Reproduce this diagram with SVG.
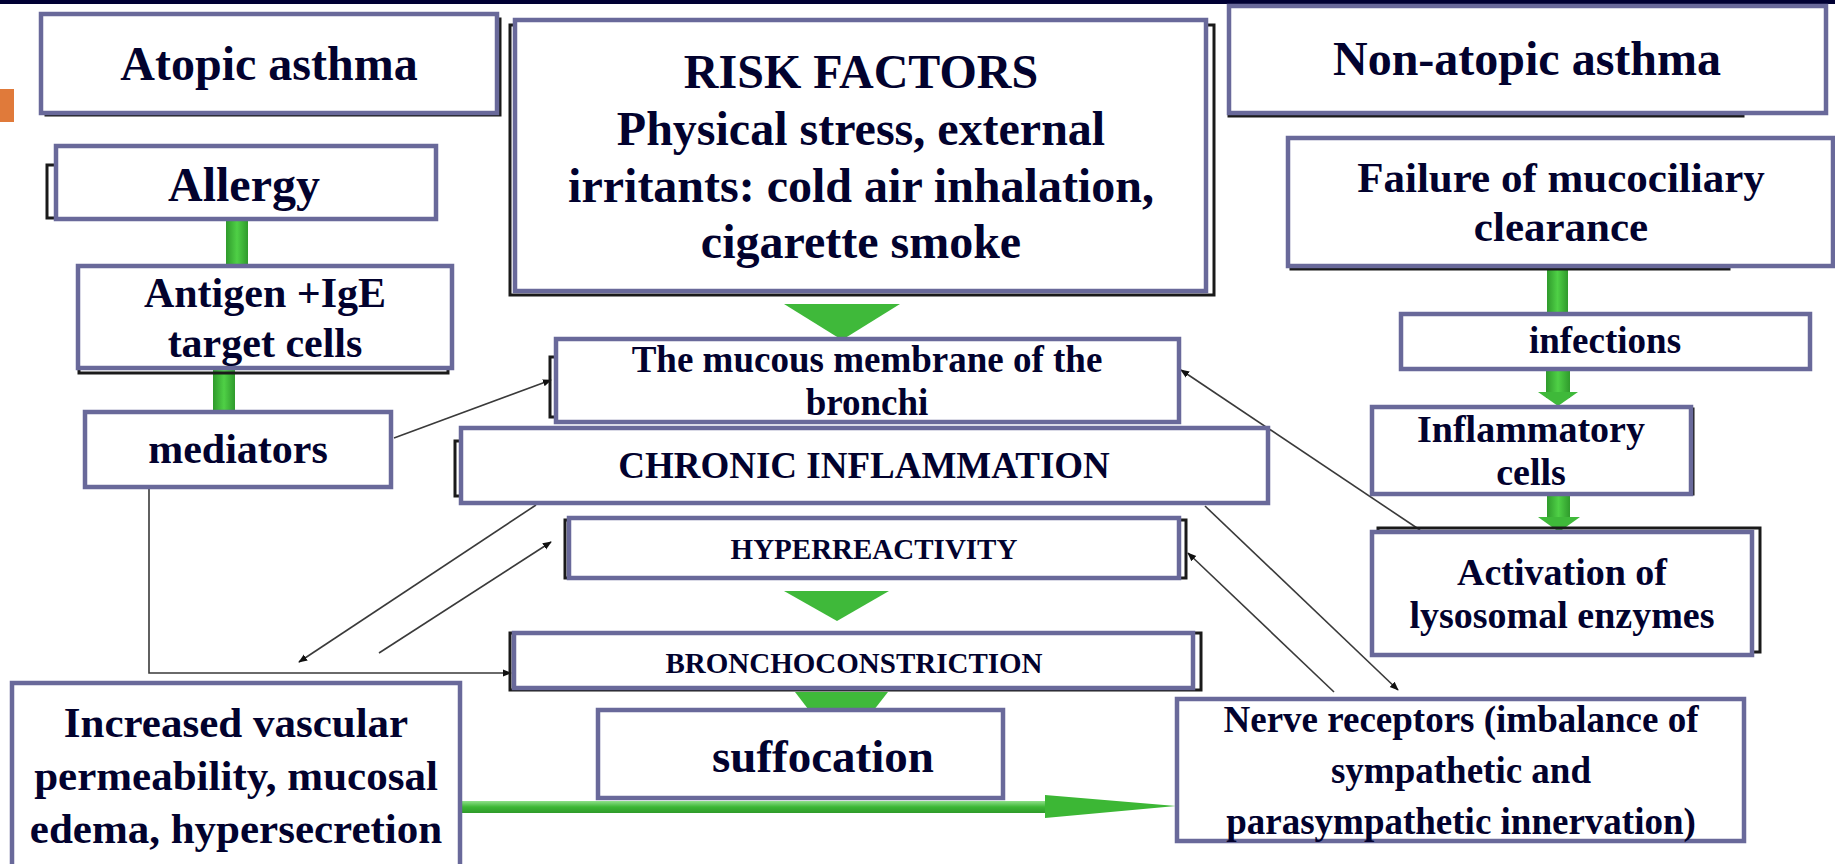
<svg xmlns="http://www.w3.org/2000/svg" width="1835" height="864" viewBox="0 0 1835 864">
<defs>
<style>
.box{fill:#fff;stroke:#69699a;stroke-width:4.5}
.sh{fill:none;stroke:#1a1a1a;stroke-width:3}
.t{font-family:"Liberation Serif","Times New Roman",serif;font-weight:bold;fill:#02022e;text-anchor:middle}
.ln{fill:none;stroke:#3a3a3a;stroke-width:1.6}
.g{fill:url(#gv)}
.gt{fill:#3fb93a}
</style>
<linearGradient id="gv" x1="0" y1="0" x2="1" y2="0">
<stop offset="0" stop-color="#2f9a2c"/><stop offset="0.5" stop-color="#4fd046"/><stop offset="1" stop-color="#2f9a2c"/>
</linearGradient>
<linearGradient id="gh" x1="0" y1="0" x2="0" y2="1">
<stop offset="0" stop-color="#8fe08a"/><stop offset="0.5" stop-color="#3cb735"/><stop offset="1" stop-color="#2e9a2a"/>
</linearGradient>
<marker id="ah" viewBox="0 0 10 10" refX="9" refY="5" markerWidth="9" markerHeight="9" markerUnits="userSpaceOnUse" orient="auto">
<path d="M0,1 L10,5 L0,9 Z" fill="#111"/>
</marker>
</defs>
<rect x="0" y="0" width="1835" height="864" fill="#fff"/>
<rect x="0" y="0" width="1835" height="4" fill="#000033"/>
<rect x="0" y="89" width="14" height="33" fill="#e07a3a"/>

<g id="green-links">
<rect class="g" x="226" y="219" width="22" height="48"/>
<rect class="g" x="213" y="366" width="22" height="47"/>
<rect class="g" x="1547" y="266" width="21" height="49"/>
<rect class="g" x="1546" y="368" width="24" height="30"/>
<polygon class="gt" points="1538,392 1578,392 1558,406"/>
<rect class="g" x="1547" y="492" width="23" height="28"/>
<polygon class="gt" points="1538,517 1580,517 1559,532"/>
<polygon class="gt" points="784,304 900,304 842,340"/>
<polygon class="gt" points="784,591 889,591 837,621"/>
<polygon class="gt" points="795,692 888,692 841,752"/>
<rect x="460" y="801" width="590" height="12" fill="url(#gh)"/>
<polygon points="1045,795 1176,806 1045,818" fill="#3cb735"/>
</g>

<g id="connectors">
<line class="ln" x1="394" y1="438" x2="551" y2="380" marker-end="url(#ah)"/>
<polyline class="ln" points="149,487 149,673 511,673" marker-end="url(#ah)"/>
<line class="ln" x1="536" y1="505" x2="299" y2="662" marker-end="url(#ah)"/>
<line class="ln" x1="379" y1="653" x2="551" y2="542" marker-end="url(#ah)"/>
<line class="ln" x1="1420" y1="530" x2="1181" y2="370" marker-end="url(#ah)"/>
<line class="ln" x1="1205" y1="506" x2="1398" y2="690" marker-end="url(#ah)"/>
<line class="ln" x1="1334" y1="692" x2="1188" y2="553" marker-end="url(#ah)"/>
</g>

<g id="atopic">
<rect class="sh" x="46" y="19" width="454" height="96"/>
<rect class="box" x="41" y="14" width="456" height="99"/>
<text class="t" x="269" y="80" font-size="48">Atopic asthma</text>
</g>
<g id="risk">
<rect class="sh" x="510" y="25" width="704" height="270"/>
<rect class="box" x="515" y="20" width="691" height="271"/>
<text class="t" font-size="48"><tspan x="861" y="88">RISK FACTORS</tspan><tspan x="861" y="145">Physical stress, external</tspan><tspan x="861" y="202">irritants: cold air inhalation,</tspan><tspan x="861" y="258">cigarette smoke</tspan></text>
</g>
<g id="nonatopic">
<rect class="sh" x="1229" y="10" width="514" height="106"/>
<rect class="box" x="1229" y="6" width="597" height="107"/>
<text class="t" x="1527" y="75" font-size="48">Non-atopic asthma</text>
</g>
<g id="allergy">
<rect class="sh" x="47" y="165" width="380" height="53"/>
<rect class="box" x="56" y="146" width="380" height="73"/>
<text class="t" x="244" y="201" font-size="48">Allergy</text>
</g>
<g id="failure">
<rect class="sh" x="1291" y="142" width="438" height="127"/>
<rect class="box" x="1288" y="138" width="545" height="128"/>
<text class="t" font-size="43"><tspan x="1561" y="192">Failure of mucociliary</tspan><tspan x="1561" y="241">clearance</tspan></text>
</g>
<g id="antigen">
<rect class="sh" x="79" y="270" width="369" height="103"/>
<rect class="box" x="78" y="266" width="374" height="102"/>
<text class="t" font-size="42"><tspan x="265" y="307">Antigen +IgE</tspan><tspan x="265" y="357">target cells</tspan></text>
</g>
<g id="infections">
<rect class="box" x="1401" y="314" width="409" height="55"/>
<text class="t" x="1605" y="353" font-size="37">infections</text>
</g>
<g id="mucous">
<rect class="sh" x="550" y="357" width="40" height="60"/>
<rect class="box" x="556" y="339" width="623" height="83"/>
<text class="t" font-size="37"><tspan x="867" y="372">The mucous membrane of the</tspan><tspan x="867" y="415">bronchi</tspan></text>
</g>
<g id="mediators">
<rect class="box" x="85" y="412" width="306" height="75"/>
<text class="t" x="238" y="463" font-size="42">mediators</text>
</g>
<g id="chronic">
<rect class="sh" x="455" y="441" width="40" height="55"/>
<rect class="box" x="461" y="428" width="807" height="75"/>
<text class="t" x="864" y="478" font-size="37">CHRONIC INFLAMMATION</text>
</g>
<g id="inflammatory">
<rect class="sh" x="1375" y="409" width="318" height="85"/>
<rect class="box" x="1372" y="407" width="319" height="87"/>
<text class="t" font-size="38"><tspan x="1531" y="442">Inflammatory</tspan><tspan x="1531" y="485">cells</tspan></text>
</g>
<g id="hyper">
<rect class="sh" x="565" y="520" width="621" height="58"/>
<rect class="box" x="569" y="518" width="610" height="60"/>
<text class="t" x="874" y="559" font-size="29">HYPERREACTIVITY</text>
</g>
<g id="activation">
<rect class="sh" x="1378" y="528" width="382" height="124"/>
<rect class="box" x="1372" y="532" width="380" height="123"/>
<text class="t" font-size="38"><tspan x="1562" y="585">Activation of</tspan><tspan x="1562" y="628">lysosomal enzymes</tspan></text>
</g>
<g id="broncho">
<rect class="sh" x="510" y="633" width="691" height="57"/>
<rect class="box" x="514" y="633" width="679" height="55"/>
<text class="t" x="854" y="673" font-size="29">BRONCHOCONSTRICTION</text>
</g>
<g id="increased">
<rect class="box" x="12" y="683" width="448" height="190"/>
<text class="t" font-size="43"><tspan x="236" y="737">Increased vascular</tspan><tspan x="236" y="790">permeability, mucosal</tspan><tspan x="236" y="843">edema, hypersecretion</tspan></text>
</g>
<g id="suffocation">
<rect class="box" x="598" y="710" width="405" height="88"/>
<text class="t" x="823" y="772" font-size="47">suffocation</text>
</g>
<g id="nerve">
<rect class="box" x="1177" y="699" width="567" height="142"/>
<text class="t" font-size="37"><tspan x="1461" y="732">Nerve receptors (imbalance of</tspan><tspan x="1461" y="783">sympathetic and</tspan><tspan x="1461" y="834">parasympathetic innervation)</tspan></text>
</g>
</svg>
